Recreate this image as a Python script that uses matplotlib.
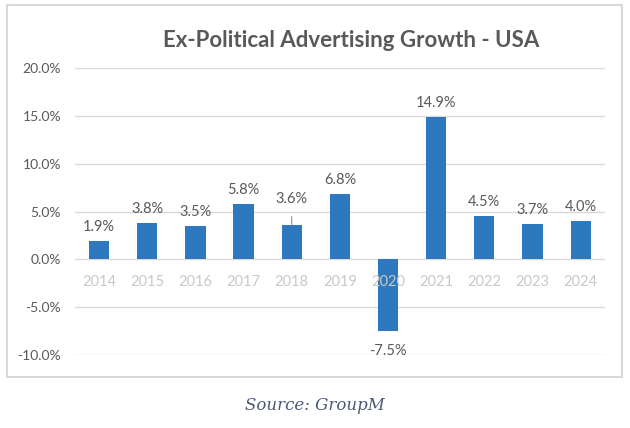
import matplotlib.pyplot as plt
from matplotlib.patches import Rectangle

years = ["2014", "2015", "2016", "2017", "2018", "2019", "2020", "2021", "2022", "2023", "2024"]
growth = [1.9, 3.8, 3.5, 5.8, 3.6, 6.8, -7.5, 14.9, 4.5, 3.7, 4.0]
y_ticks = [-10, -5, 0, 5, 10, 15, 20]

plt.rcParams['font.family'] = ['Lato', 'DejaVu Sans']

fig = plt.figure(figsize=(6.3, 4.28), dpi=100)
ax = fig.add_axes([0.119, 0.1706, 0.841, 0.6704])

x = range(len(years))
ax.bar(x, growth, width=0.42, color="#2E78BD", zorder=3)

ax.set_ylim(-10, 20)
ax.set_xlim(-0.5, len(years) - 0.5)
ax.set_yticks(y_ticks)
ax.set_yticklabels([f"{v:.1f}%" for v in y_ticks], color="#595959", fontsize=10)
ax.grid(axis="y", color="#d9d9d9", linewidth=1, zorder=0)
ax.set_xticks([])
for s in ax.spines.values():
    s.set_visible(False)
ax.tick_params(axis="both", length=0)
ax.tick_params(axis="y", pad=10)

# year labels sit just under the zero line, drawn over the bars
for i, yr in enumerate(years):
    ax.annotate(yr, xy=(i, 0), xytext=(0, -16), textcoords="offset points",
                ha="center", va="center", color="#c8c8c8", fontsize=10.5, zorder=5)

for i, v in enumerate(growth):
    label = f"{v:.1f}%"
    if years[i] == "2018":
        ax.annotate(label, xy=(i, v), xytext=(0, 19), textcoords="offset points",
                    ha="center", va="center", color="#595959", fontsize=10.5,
                    arrowprops=dict(arrowstyle="-", color="#8c8c8c", lw=0.8,
                                    shrinkA=6, shrinkB=0))
    elif v >= 0:
        ax.annotate(label, xy=(i, v), xytext=(0, 10), textcoords="offset points",
                    ha="center", va="center", color="#595959", fontsize=10.5)
    else:
        ax.annotate(label, xy=(i, v), xytext=(0, -14), textcoords="offset points",
                    ha="center", va="center", color="#595959", fontsize=10.5)

fig.text(0.557, 0.905, "Ex-Political Advertising Growth - USA", ha="center", va="center",
         fontsize=16, fontweight="bold", color="#595959")

fig.patches.append(Rectangle((7 / 630, 1 - 377 / 428), 615 / 630, 372 / 428,
                             transform=fig.transFigure, fill=False,
                             edgecolor="#d9d9d9", linewidth=1.5))

fig.text(0.5, 1 - 406 / 428, "Source: GroupM", ha="center", va="center",
         fontsize=12, style="italic", family="DejaVu Serif", color="#4a5a78")

plt.savefig("out.png", dpi=100)
